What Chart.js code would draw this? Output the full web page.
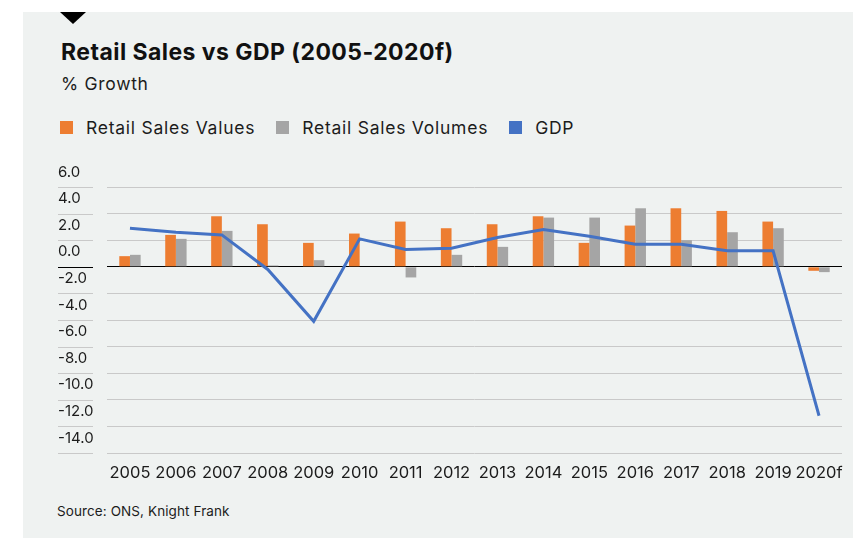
<!DOCTYPE html>
<html>
<head>
<meta charset="utf-8">
<script src="https://cdn.jsdelivr.net/npm/chart.js@4"></script>
<style>
  html, body { margin: 0; padding: 0; background: #fff; }
  body { width: 853px; height: 538px; position: relative; overflow: hidden; font-family: Inter, "Noto Sans", sans-serif; color: #1c1c1c; }
  .panel { position: absolute; left: 23px; top: 12px; width: 830px; height: 526px; background: #eff2f1; }
  .marker { position: absolute; left: 60px; top: 12px; width: 0; height: 0;
            border-left: 13px solid transparent; border-right: 13px solid transparent; border-top: 12px solid #000; }
  .title { position: absolute; left: 61px; top: 41px; font-size: 23px; letter-spacing: 0.45px; line-height: 1; font-weight: 700; color: #111; }
  .subtitle { position: absolute; left: 61px; top: 75px; font-size: 17.5px; letter-spacing: 0.7px; line-height: 1; }
  .legend { position: absolute; left: 60px; top: 119px; display: flex; font-size: 17.5px; letter-spacing: 0.75px; line-height: 1; }
  .legend .item { display: flex; align-items: center; margin-right: 21px; }
  .legend .box { width: 13px; height: 13px; margin-right: 13px; }
  .source { position: absolute; left: 57px; top: 505px; font-size: 13.5px; letter-spacing: 0.1px; line-height: 1; }
  #chartWrap { position: absolute; left: 23px; top: 140px; width: 830px; height: 398px; }
</style>
</head>
<body>
<div class="panel"></div>
<div class="marker"></div>
<div class="title">Retail Sales vs GDP (2005-2020f)</div>
<div class="subtitle">% Growth</div>
<div class="legend" id="legend"></div>
<div class="source">Source: ONS, Knight Frank</div>
<div id="chartWrap"><canvas id="salesChart" width="830" height="398"></canvas></div>

<script>
// Annual % growth
const years = ['2005', '2006', '2007', '2008', '2009', '2010', '2011', '2012',
               '2013', '2014', '2015', '2016', '2017', '2018', '2019', '2020f'];
const salesValues = [0.8, 2.4, 3.8, 3.2, 1.8, 2.5, 3.4, 2.9, 3.2, 3.8, 1.8, 3.1, 4.4, 4.2, 3.4, -0.3];
const salesVolumes = [0.9, 2.1, 2.7, 0.1, 0.5, 0.0, -0.8, 0.9, 1.5, 3.7, 3.7, 4.4, 2.0, 2.6, 2.9, -0.4];
const gdp = [2.9, 2.6, 2.4, -0.2, -4.1, 2.1, 1.3, 1.4, 2.2, 2.8, 2.3, 1.7, 1.7, 1.2, 1.2, -11.2];

const seriesNames = ['Retail Sales Values', 'Retail Sales Volumes', 'GDP'];
const seriesColors = ['#ed7d31', '#a5a5a5', '#4472c4'];

const gridGrey = '#c9c9c9';
const textColor = '#1c1c1c';

// legend row above the chart
const legendEl = document.getElementById('legend');
seriesNames.forEach(function(name, i) {
    const item = document.createElement('div');
    item.className = 'item';
    item.innerHTML = '<span class="box" style="background:' + seriesColors[i] + '"></span><span>' + name + '</span>';
    legendEl.appendChild(item);
});

// short rules under the y tick labels, drawn apart from the grid
const tickRules = {
    id: 'tickRules',
    afterDraw(chart) {
        const y = chart.scales.y;
        const c = chart.ctx;
        c.save();
        c.lineWidth = 1;
        y.ticks.forEach(function(t) {
            const py = Math.round(y.getPixelForValue(t.value)) + 0.5;
            c.strokeStyle = t.value === 0 ? '#000' : gridGrey;
            c.beginPath();
            c.moveTo(35, py);
            c.lineTo(70, py);
            c.stroke();
        });
        c.restore();
    }
};

const ctx = document.getElementById('salesChart').getContext('2d');
const salesChart = new Chart(ctx, {
    data: {
        labels: years,
        datasets: [{
            type: 'line',
            label: seriesNames[2],
            data: gdp,
            borderColor: seriesColors[2],
            backgroundColor: seriesColors[2],
            borderWidth: 3,
            pointRadius: 0,
            tension: 0,
            order: 0
        }, {
            type: 'bar',
            label: seriesNames[0],
            data: salesValues,
            backgroundColor: seriesColors[0],
            barPercentage: 1,
            categoryPercentage: 0.465,
            order: 1
        }, {
            type: 'bar',
            label: seriesNames[1],
            data: salesVolumes,
            backgroundColor: seriesColors[1],
            barPercentage: 1,
            categoryPercentage: 0.465,
            order: 1
        }]
    },
    options: {
        responsive: false,
        animation: false,
        devicePixelRatio: 1,
        layout: { padding: { left: 35, top: 47, right: 11, bottom: 0 } },
        plugins: {
            legend: { display: false },
            tooltip: { enabled: false }
        },
        scales: {
            x: {
                grid: { display: false, drawTicks: false },
                border: { display: false },
                ticks: {
                    color: textColor,
                    padding: 10,
                    maxRotation: 0,
                    autoSkip: false,
                    font: { family: 'Inter', size: 16.5 }
                },
                afterFit(scale) { scale.height = 85; }
            },
            y: {
                min: -14,
                max: 6,
                grid: {
                    drawTicks: false,
                    lineWidth: 1,
                    color: (c) => (c.tick && c.tick.value === 0) ? '#000' : gridGrey
                },
                border: { display: false },
                ticks: {
                    stepSize: 2,
                    crossAlign: 'far',
                    labelOffset: -15,
                    color: textColor,
                    font: { family: 'Inter', size: 15 },
                    callback: (v) => v.toFixed(1)
                },
                afterFit(scale) { scale.width = 49; }
            }
        }
    },
    plugins: [tickRules]
});
</script>
</body>
</html>
